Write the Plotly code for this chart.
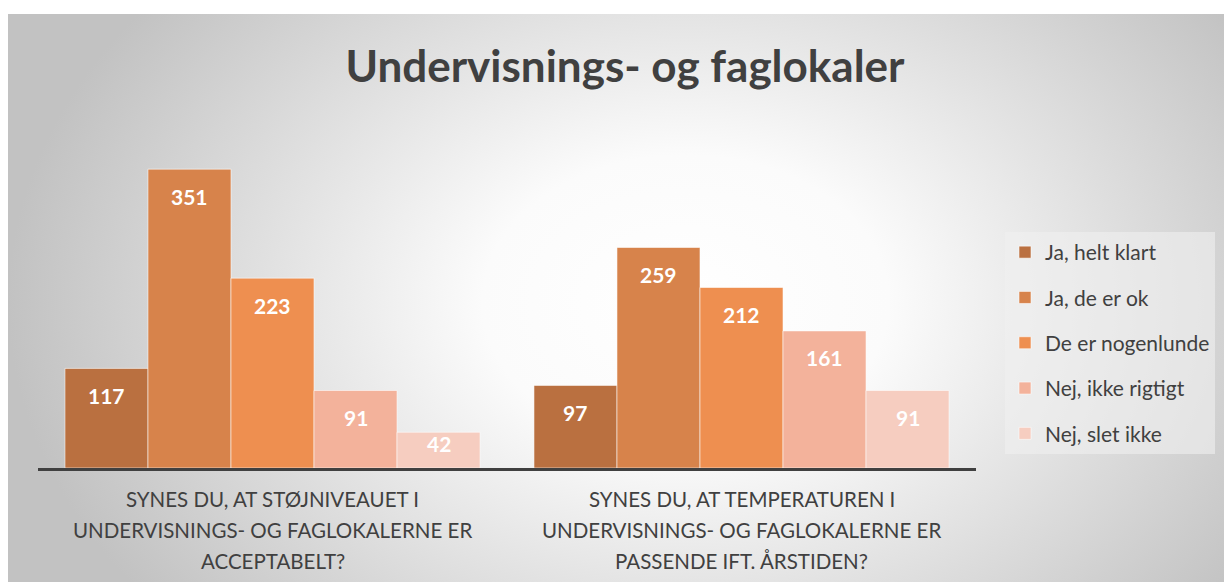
import plotly.graph_objects as go

# Data
CATEGORY_LINES = [
    ["SYNES DU, AT STØJNIVEAUET I", "UNDERVISNINGS- OG FAGLOKALERNE ER", "ACCEPTABELT?"],
    ["SYNES DU, AT TEMPERATUREN I", "UNDERVISNINGS- OG FAGLOKALERNE ER", "PASSENDE IFT. ÅRSTIDEN?"],
]
SERIES_NAMES = ["Ja, helt klart", "Ja, de er ok", "De er nogenlunde", "Nej, ikke rigtigt", "Nej, slet ikke"]
SERIES_VALUES = [
    [117, 97],
    [351, 259],
    [223, 212],
    [91, 161],
    [42, 91],
]
SERIES_COLORS = ["#BA7040", "#D7834B", "#EE8F50", "#F3B29B", "#F6CDC0"]

TEXT_COLOR = "#404040"
FONT = "Lato, 'Open Sans', sans-serif"
BARGAP = 0.115
YMAX = 397
PX_PER_UNIT = 0.852

W, H = 1232, 582
OFF = 8  # the page body adds an 8px margin


def px(x):
    return (x - OFF) / W


def py(y):
    return 1 - (y - OFF) / H


categories = ["<br>".join(lines) for lines in CATEGORY_LINES]

fig = go.Figure()

# radial-gradient backdrop on its own (first) subplot
fig.add_trace(go.Scatter(
    x=[0, 1.1, 1.1, 0, 0], y=[-0.35, -0.35, 1.35, 1.35, -0.35],
    mode="lines", fill="toself",
    fillgradient=dict(type="radial",
                      colorscale=[[0, "#ffffff"], [0.3, "#fbfbfb"], [1, "#c2c2c2"]]),
    line=dict(width=0), hoverinfo="skip", showlegend=False,
    xaxis="x", yaxis="y",
))

for i, (name, vals, col) in enumerate(zip(SERIES_NAMES, SERIES_VALUES, SERIES_COLORS)):
    fig.add_trace(go.Bar(
        x=categories, y=vals, name=name,
        marker=dict(color=col, line=dict(color="rgba(255,255,255,0.55)", width=1)),
        legendgroup=name,
        xaxis="x2", yaxis="y2",
        hovertemplate=f"<b>{name}</b><br>%{{y}}<extra></extra>",
    ))

# data labels (inside end, like Excel)
n = len(SERIES_NAMES)
w = (1 - BARGAP) / n
annotations = []
for i, vals in enumerate(SERIES_VALUES):
    for j, v in enumerate(vals):
        shift = min(27, v * PX_PER_UNIT / 2 - 7)
        annotations.append(dict(
            x=j + (i - (n - 1) / 2) * w, y=v, xref="x2", yref="y2",
            text=f"<b>{v}</b>", showarrow=False, yshift=-shift, yanchor="middle",
            font=dict(color="white", size=21, family=FONT),
        ))

# category labels, one annotation per line for Excel-like line spacing
for j, lines in enumerate(CATEGORY_LINES):
    for k, line in enumerate(lines):
        annotations.append(dict(
            x=j, y=0, xref="x2", yref="y2", text=line, showarrow=False,
            yshift=-31 * (k + 1), yanchor="middle",
            font=dict(color=TEXT_COLOR, size=20.5, family=FONT),
        ))

fig.update_layout(
    width=W, height=H,
    margin=dict(l=0, r=0, t=0, b=0, autoexpand=False),
    paper_bgcolor="white",
    plot_bgcolor="rgba(0,0,0,0)",
    font=dict(family=FONT, color=TEXT_COLOR),
    title=dict(text="<b>Undervisnings- og faglokaler</b>",
               x=px(625), xref="container", xanchor="center",
               y=py(67), yref="container", yanchor="middle",
               font=dict(size=44, color=TEXT_COLOR, family=FONT)),
    xaxis=dict(domain=[0, 1], range=[0, 1], visible=False, fixedrange=True),
    yaxis=dict(domain=[0, py(14)], range=[0, 1], visible=False, fixedrange=True),
    xaxis2=dict(domain=[px(38), px(976)], anchor="y2",
                showticklabels=False, ticks="", showgrid=False,
                showline=True, linecolor=TEXT_COLOR, linewidth=3),
    yaxis2=dict(domain=[py(468), py(130)], anchor="x2",
                range=[0, YMAX], visible=False, showgrid=False),
    barmode="group", bargap=BARGAP, bargroupgap=0,
    legend=dict(x=px(1005), xref="container", xanchor="left",
                y=py(232), yref="container", yanchor="top",
                bgcolor="rgba(240,240,240,0.6)", borderwidth=0,
                tracegroupgap=15, traceorder="grouped",
                font=dict(size=21, color=TEXT_COLOR, family=FONT)),
    annotations=annotations,
)

fig.write_html("out.html")
